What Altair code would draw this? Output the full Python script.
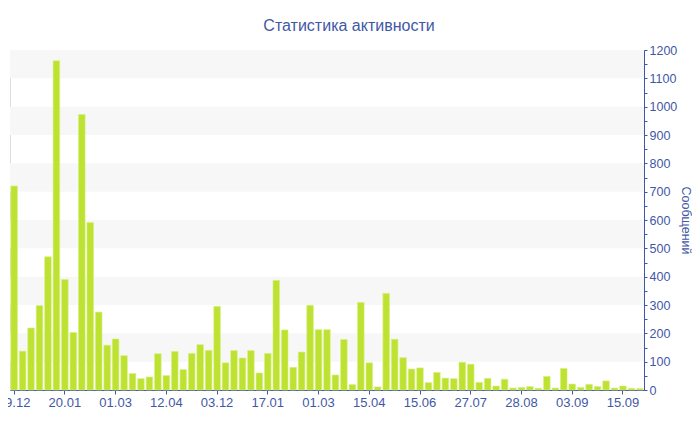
import altair as alt
import pandas as pd

# ---- data ----
values = [720, 137, 219, 298, 470, 1162, 390, 203, 972, 591,
          275, 158, 180, 121, 58, 40, 46, 128, 51, 136,
          72, 129, 160, 140, 295, 96, 139, 113, 139, 60,
          129, 387, 212, 80, 134, 299, 213, 213, 53, 178,
          19, 309, 96, 11, 341, 179, 114, 74, 78, 26,
          62, 42, 40, 98, 91, 27, 41, 14, 38, 7,
          9, 12, 6, 48, 7, 76, 21, 9, 20, 12,
          32, 7, 14, 6, 5]
tick_labels = ["09.12", "20.01", "01.03", "12.04", "03.12", "17.01", "01.03",
               "15.04", "15.06", "27.07", "28.08", "03.09", "15.09"]
band_lo = [100, 300, 500, 700, 900, 1100]
band_hi = [200, 400, 600, 800, 1000, 1200]

TICK_STEP = 6
BLUE = "#3f58a6"
FONT = "Liberation Sans"

df = pd.DataFrame({"i": list(range(len(values))), "v": values})
bands = pd.DataFrame({"lo": band_lo, "hi": band_hi})

label_arr = "[" + ",".join("'" + t + "'" for t in tick_labels) + "]"
label_expr = label_arr + "[datum.value / " + str(TICK_STEP) + "]"

yscale = alt.Scale(domain=[0, 1200], nice=False, zero=True)

y_axis = alt.Axis(
    orient="right",
    values=list(range(0, 1201, 50)),
    format="d",
    labelExpr="datum.value % 100 === 0 ? datum.label : ''",
    grid=False,
    domainColor=BLUE,
    tickColor=BLUE,
    tickSize=3,
    labelColor=BLUE,
    labelFont=FONT,
    labelFontSize=12.5,
    labelPadding=2,
    labelOverlap=False,
    title="Сообщений",
    titleColor=BLUE,
    titleFont=FONT,
    titleFontSize=12.5,
    titleFontWeight="normal",
    titlePadding=2,
)

band_layer = alt.Chart(bands).mark_rect(color="#f7f7f7").encode(
    x=alt.value(0),
    x2=alt.value("width"),
    y=alt.Y("lo:Q", scale=yscale, axis=y_axis),
    y2="hi:Q",
)

bars = alt.Chart(df).mark_bar(color="#bde231", stroke="#daf07e", strokeWidth=0.6).encode(
    x=alt.X(
        "i:O",
        scale=alt.Scale(paddingInner=0.22, paddingOuter=0.1),
        axis=alt.Axis(
            values=list(range(0, len(values), TICK_STEP)),
            labelExpr=label_expr,
            labelAngle=0,
            title=None,
            domainColor=BLUE,
            tickColor=BLUE,
            tickSize=4,
            labelColor=BLUE,
            labelFont=FONT,
            labelFontSize=13,
            labelPadding=2,
            labelOverlap=False,
            labelFlush=False,
        ),
    ),
    y=alt.Y("v:Q", scale=yscale, axis=y_axis),
)

chart = alt.layer(band_layer, bars).properties(
    width=634,
    height=340,
    autosize=alt.AutoSizeParams(type="none"),
    padding={"left": 2, "top": 42, "right": 48, "bottom": 32},
    title=alt.TitleParams(
        "Статистика активности",
        color=BLUE,
        font=FONT,
        fontSize=16,
        fontWeight="normal",
        anchor="middle",
        dx=22,
        dy=-6,
    ),
).configure_view(stroke=None).configure(background="white")

chart.save("out.html", embed_options={"renderer": "svg", "actions": False})
